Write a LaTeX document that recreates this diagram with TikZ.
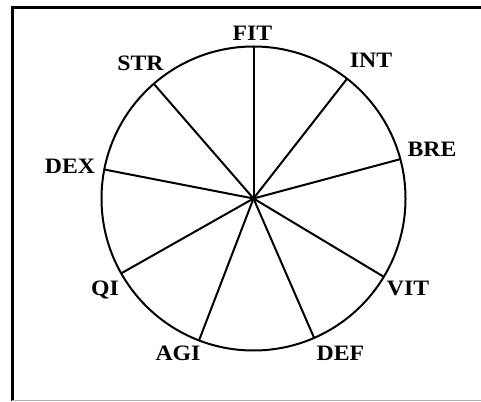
\documentclass[tikz,border=0pt]{standalone}
\usepackage{fontspec}
\newfontfamily\statfont[FakeStretch=1.08]{Liberation Serif}
\usetikzlibrary{positioning}
\tikzset{
  frameline/.style={line width=3pt,black},
  wheel/.style={line width=2pt,black},
  spoke/.style={line width=2pt,black},
  statlabel/.style={anchor=base,inner sep=0pt,
                    font=\statfont\bfseries\fontsize{22}{26}\selectfont},
}

\begin{document}
\begin{tikzpicture}[x=1pt,y=1pt]
  \useasboundingbox (0,0) rectangle (481,401);
  % frame
  \draw[frameline](10.5,393)--(481,393);
  \draw[frameline](12,394.5)--(12,0);
  \draw[line width=1.2pt,black!30](12,0.6)--(481,0.6);
  % wheel
  \coordinate (hub) at (253.5,202.5);
  \draw[wheel](hub) circle[radius=152];
  \foreach \n/\a/\t/\x/\y in {
    fit/90/FIT/252.5/360.5,
    int/52/INT/371/333,
    bre/15/BRE/432/244,
    vit/-31/VIT/408/105,
    def/-66.5/DEF/340.5/40,
    agi/-111/AGI/178/41,
    qi/-150.5/QI/105/105,
    dex/169/DEX/70/227,
    str/131/STR/140.5/330
  }{
    \path (hub) ++(\a:152) coordinate (\n);
    \draw[spoke](hub)--(\n);
    \node[statlabel](\n-lbl) at (\x,\y){\t};
  }
\end{tikzpicture}
\end{document}
